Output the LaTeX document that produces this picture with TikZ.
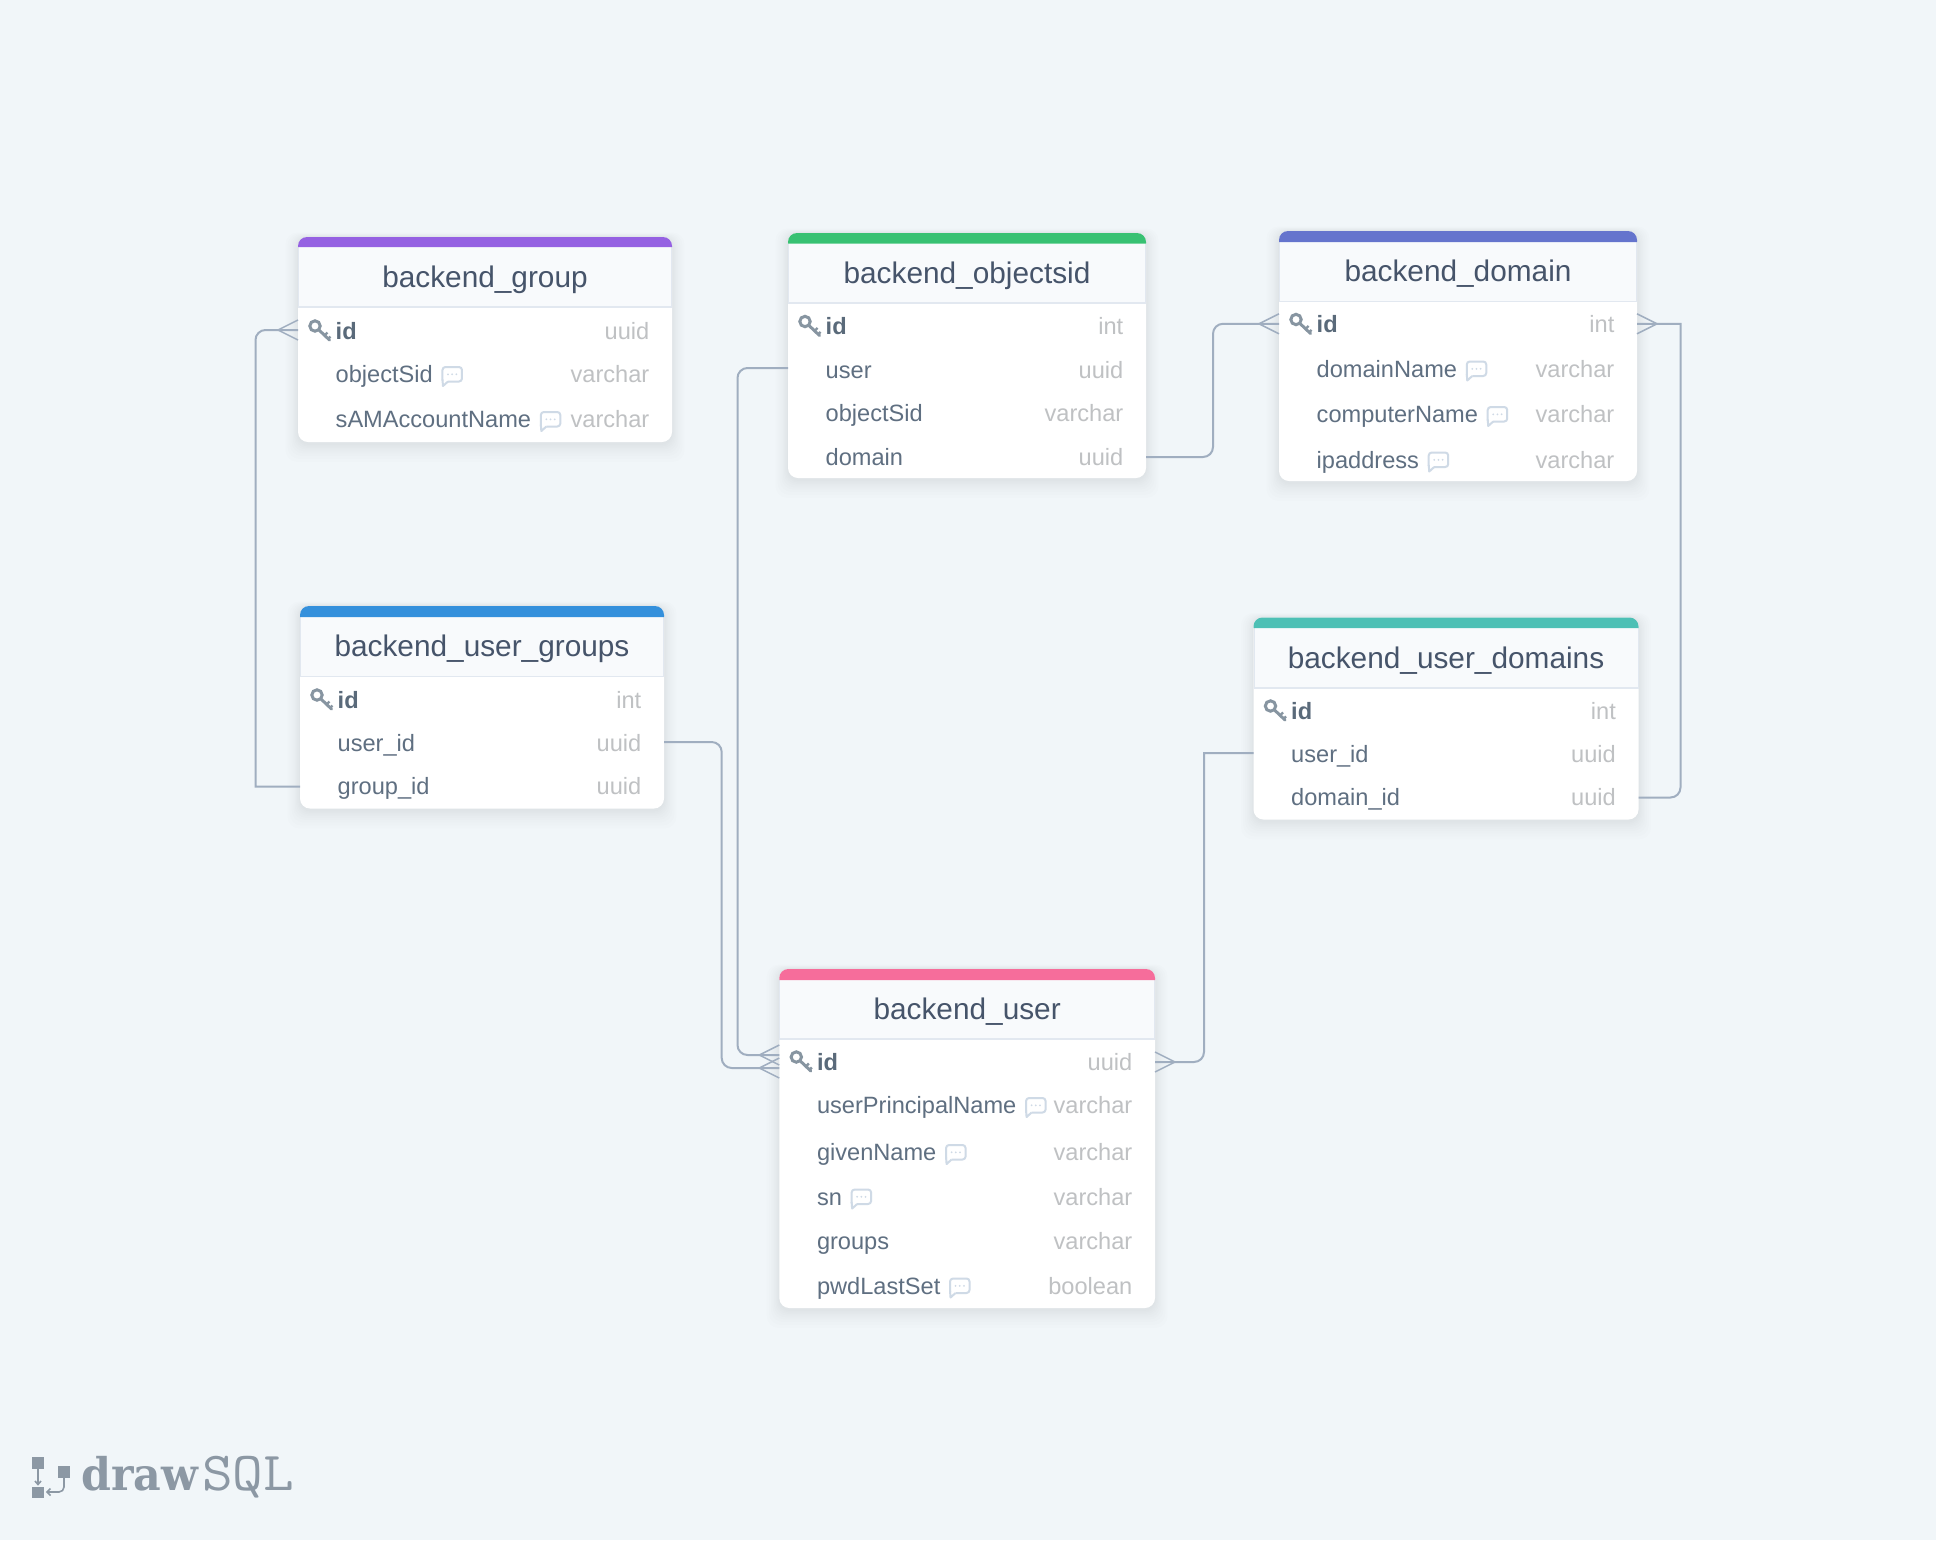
\documentclass[tikz,border=0pt]{standalone}
\usepackage{fontspec}
\setmainfont{Liberation Sans}
\newfontfamily\logobold{DejaVu Serif}[BoldFont={DejaVu Serif Bold}]
\usetikzlibrary{calc}
\definecolor{bgc}{HTML}{F1F6F9}
\definecolor{titlec}{HTML}{46546A}
\definecolor{rowc}{HTML}{5F6F81}
\definecolor{idc}{HTML}{5A6A7A}
\definecolor{typec}{HTML}{BFC1C3}
\definecolor{connc}{HTML}{A0AEC0}
\definecolor{headc}{HTML}{F8FAFC}
\definecolor{linec}{HTML}{E2E8F0}
\definecolor{keyc}{HTML}{8795A1}
\definecolor{cmtc}{HTML}{CFDAE6}
\definecolor{logoc}{HTML}{8C98A4}
\definecolor{cgroup}{HTML}{9561E2}
\definecolor{cobject}{HTML}{38C172}
\definecolor{cdomain}{HTML}{6574CD}
\definecolor{cgroups}{HTML}{3490DC}
\definecolor{cdomains}{HTML}{4DC0B5}
\definecolor{cuser}{HTML}{F66D9B}
\tikzset{
  conn/.style={draw=connc,line width=2pt,fill=none},
  crowline/.style={draw=connc,line width=1.5pt,fill=none},
  titletext/.style={font=\fontsize{29.8}{33}\selectfont,text=titlec,inner sep=0pt,anchor=base},
  nametext/.style={font=\fontsize{23.6}{26}\selectfont,text=rowc,inner sep=0pt,anchor=base west},
  idtext/.style={font=\fontsize{23.6}{26}\selectfont\bfseries,text=idc,inner sep=0pt,anchor=base west},
  typetext/.style={font=\fontsize{23.6}{26}\selectfont,text=typec,inner sep=0pt,anchor=base east},
  rowbox/.style={inner sep=0pt,outer sep=0pt,draw=none},
  cmt/.pic={
    \draw[cmtc,line width=2pt,line join=round,rounded corners=3pt] (9.5,-2) -- (9.5,-15.5) -- (29,-15.5) -- (29,-1) -- (15,-1);
    \draw[cmtc,line width=2pt,line join=round] (15,-1) -- (10,3.5) -- (9.5,-3);
    \foreach \dx in {15,19.2,23.4}{\fill[cmtc] (\dx,-8.2) circle (1);}
  },
  keyicon/.pic={
    \draw[keyc,line width=3pt] (17,-5) circle (5.2);
    \draw[keyc,line width=3pt,line cap=round] (21,-1) -- (31.5,9);
    \draw[keyc,line width=2.4pt] (26.5,4.5) -- (29.5,1.5);
    \draw[keyc,line width=2.4pt] (30,8) -- (32.5,5.5);
  }
}
% \tbl{prefix}{left}{right}{top}{strip bottom}{head bottom}{bottom}{colour}{title}
\newcommand{\tbl}[9]{%
  \foreach \g in {18,15,12,9.5,7.5,5.5,4,2.5,1.2}{
    \fill[black,opacity=0.007,rounded corners=12] (#2-\g*0.7,#4-\g*0.25) rectangle (#3+\g*0.7,#7+2+\g);
  }
  \fill[white,rounded corners=10] (#2,#4) rectangle (#3,#7);
  \fill[headc] (#2+1,#5) rectangle (#3-1,#6);
  \draw[linec,line width=1.5pt] (#2,#6) -- (#3,#6);
  \draw[linec,line width=1pt] (#2+.5,#5) -- (#2+.5,#6) (#3-.5,#5) -- (#3-.5,#6);
  \fill[#8] (#2,#5) [rounded corners=9] -- (#2,#4) -- (#3,#4) [sharp corners] -- (#3,#5) -- cycle;
  \node[titletext] (#1-title) at ({(#2+#3)/2},{(#5+#6)/2+10}) {#9};
  \def\tl{#2}\def\tr{#3}%
}
% \rw{node name}{centre y}{text}{type}{comment 0/1}
\newcommand{\rw}[5]{%
  \pgfmathsetmacro{\rwd}{\tr-\tl}%
  \node[rowbox,minimum width=\rwd pt,minimum height=30pt] (#1) at ({(\tl+\tr)/2},#2) {};
  \node[nametext] (#1-name) at (\tl+37.5,#2+7.5) {#3};
  \node[typetext] (#1-type) at (\tr-22.5,#2+7.5) {#4};
  \ifnum#5=1 \pic at (#1-name.base east) {cmt};\fi
}
\newcommand{\rid}[3]{%
  \pgfmathsetmacro{\rwd}{\tr-\tl}%
  \node[rowbox,minimum width=\rwd pt,minimum height=30pt] (#1) at ({(\tl+\tr)/2},#2) {};
  \pic at (\tl,#2) {keyicon};
  \node[idtext] (#1-name) at (\tl+37.5,#2+8) {id};
  \node[typetext] (#1-type) at (\tr-22.5,#2+8) {#3};
}
\newcommand{\crowL}[1]{\draw[crowline] ($#1+(0,-10)$) -- ($#1+(-20,0)$) -- ($#1+(0,10)$);}
\newcommand{\crowR}[1]{\draw[crowline] ($#1+(0,-10)$) -- ($#1+(20,0)$) -- ($#1+(0,10)$);}
\begin{document}
\begin{tikzpicture}[x=1pt,y=-1pt]
\useasboundingbox (0,0) rectangle (1936,1540);
\fill[bgc] (0,0) rectangle (1936,1540);

% tables
\tbl{g}{298}{672}{237}{247}{307}{442}{cgroup}{backend\_group}
\rid{g-id}{331}{uuid}
\rw{g-objectSid}{375}{objectSid}{varchar}{1}
\rw{g-sam}{420}{sAMAccountName}{varchar}{1}

\tbl{o}{788}{1146}{233}{243.5}{303}{478}{cobject}{backend\_objectsid}
\rid{o-id}{326.5}{int}
\rw{o-user}{370.5}{user}{uuid}{0}
\rw{o-objectSid}{413.5}{objectSid}{varchar}{0}
\rw{o-domain}{457.5}{domain}{uuid}{0}

\tbl{d}{1279}{1637}{231}{242}{301.7}{481}{cdomain}{backend\_domain}
\rid{d-id}{324.5}{int}
\rw{d-domainName}{369.5}{domainName}{varchar}{1}
\rw{d-computerName}{415}{computerName}{varchar}{1}
\rw{d-ipaddress}{460.5}{ipaddress}{varchar}{1}

\tbl{ug}{300}{664}{606}{617}{676.6}{808.5}{cgroups}{backend\_user\_groups}
\rid{ug-id}{700}{int}
\rw{ug-user}{744}{user\_id}{uuid}{0}
\rw{ug-group}{786.5}{group\_id}{uuid}{0}

\tbl{ud}{1253.5}{1638.5}{617.5}{628}{688}{819.5}{cdomains}{backend\_user\_domains}
\rid{ud-id}{711}{int}
\rw{ud-user}{754.5}{user\_id}{uuid}{0}
\rw{ud-domain}{797.5}{domain\_id}{uuid}{0}

\tbl{u}{779.3}{1155}{969}{980}{1039}{1308}{cuser}{backend\_user}
\rid{u-id}{1062}{uuid}
\rw{u-upn}{1106}{userPrincipalName}{varchar}{1}
\rw{u-given}{1153}{givenName}{varchar}{1}
\rw{u-sn}{1197.5}{sn}{varchar}{1}
\rw{u-groups}{1242}{groups}{varchar}{0}
\rw{u-pwd}{1286.5}{pwdLastSet}{boolean}{1}

% connector routes
\coordinate (v1) at (255.5,500);
\coordinate (v2) at (737.5,700);
\coordinate (v3) at (721.7,900);
\coordinate (v4) at (1213,400);
\coordinate (v5) at (1680.5,500);
\coordinate (v6) at (1204,900);
\coordinate (e1) at ([yshift=1pt]g-id.west);
\coordinate (e2) at ([yshift=7pt]u-id.west);
\coordinate (e3) at ([yshift=-6pt]u-id.west);
\coordinate (e4) at ([yshift=0.7pt]d-id.west);
\coordinate (e5) at ([yshift=0.7pt]d-id.east);
\coordinate (e6) at ([yshift=0pt]u-id.east);
\coordinate (s2) at ([yshift=2.5pt]o-user.west);
\coordinate (s3) at ([yshift=2pt]ug-user.east);
\coordinate (s4) at ([yshift=0.5pt]o-domain.east);
\coordinate (s6) at ([yshift=1.5pt]ud-user.west);

\draw[conn] (ug-group.west) -- (v1 |- ug-group.west) [rounded corners=10pt] -- (v1 |- e1) -- (e1);
\draw[conn,rounded corners=10pt] (s2) -- (v2 |- s2) -- (v2 |- e2) -- (e2);
\draw[conn,rounded corners=10pt] (s3) -- (v3 |- s3) -- (v3 |- e3) -- (e3);
\draw[conn,rounded corners=10pt] (s4) -- (v4 |- s4) -- (v4 |- e4) -- (e4);
\draw[conn] (e5) -- (v5 |- e5) [rounded corners=10pt] -- (v5 |- ud-domain.east) -- (ud-domain.east);
\draw[conn] (s6) -- (v6 |- s6) [rounded corners=10pt] -- (v6 |- e6) -- (e6);
\crowL{(e1)}
\crowL{(e2)}
\crowL{(e3)}
\crowL{(e4)}
\crowR{(e5)}
\crowR{(e6)}

% logo
\fill[logoc] (32,1457) rectangle (44,1469);
\fill[logoc] (32,1487) rectangle (44,1498);
\fill[logoc] (58,1466) rectangle (70,1478);
\draw[logoc,line width=1.6pt] (38,1469) -- (38,1484) (35,1481) -- (38,1484.5) -- (41,1481);
\draw[logoc,line width=1.6pt,rounded corners=5pt] (64,1478) -- (64,1492) -- (47,1492);
\draw[logoc,line width=1.6pt] (50.5,1488.5) -- (47,1492) -- (50.5,1495.5);
\node[inner sep=0pt,anchor=base west,text=logoc,font=\logobold\bfseries\fontsize{45}{50}\selectfont] (logo-draw) at (81,1490.5) {\scalebox{0.95}[1]{draw}};
\node[inner sep=0pt,anchor=base west,text=logoc,font=\ttfamily\fontsize{55}{60}\selectfont] (logo-sql) at (202,1490.5) {\scalebox{1.08}[1]{SQL}};
\end{tikzpicture}
\end{document}
